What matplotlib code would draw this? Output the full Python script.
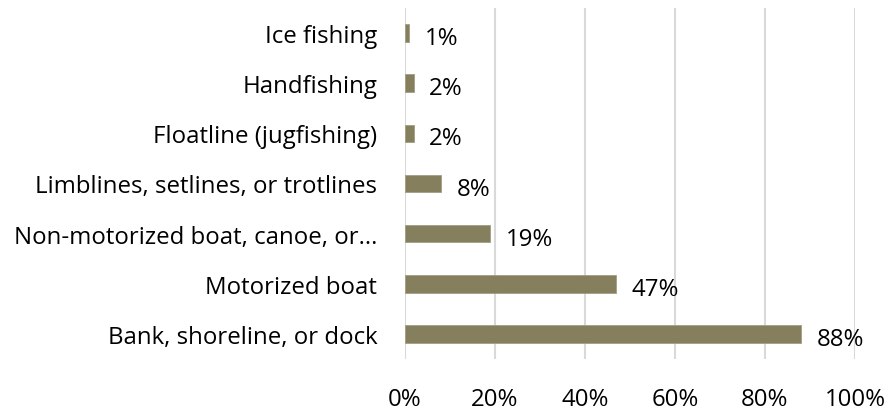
import matplotlib.pyplot as plt
from matplotlib.ticker import PercentFormatter

plt.rcParams['font.family'] = ['Open Sans', 'DejaVu Sans']

# fishing methods, bottom to top
methods = ['Bank, shoreline, or dock', 'Motorized boat', 'Non-motorized boat, canoe, or...',
           'Limblines, setlines, or trotlines', 'Floatline (jugfishing)', 'Handfishing', 'Ice fishing']
shares = [88, 47, 19, 8, 2, 2, 1]

bar_color = '#857F5E'
grid_color = '#D9D9D9'
fs = 17.3

fig = plt.figure(figsize=(8.95, 4.14), dpi=100)
ax = fig.add_axes([405 / 895, 54 / 414, 450 / 895, 351 / 414])

ypos = range(len(methods))
ax.barh(ypos, shares, height=0.35, color=bar_color, edgecolor='#A39E84', linewidth=0.6, zorder=3)

for y, v in zip(ypos, shares):
    ax.annotate(f'{v}%', xy=(v, y), xytext=(11, -3.6), textcoords='offset points',
                ha='left', va='center', fontsize=fs, color='#000000')

ax.set_xlim(0, 100)
ax.set_ylim(-0.5, len(methods) - 0.5)
ax.set_xticks(range(0, 101, 20))
ax.xaxis.set_major_formatter(PercentFormatter(decimals=0))
ax.set_yticks(list(ypos))
ax.set_yticklabels(methods)
ax.tick_params(axis='x', length=0, pad=20, labelsize=fs)
ax.tick_params(axis='y', length=0, pad=20, labelsize=fs)
ax.grid(axis='x', color=grid_color, linewidth=1.5, zorder=0)
for s in ax.spines.values():
    s.set_visible(False)

fig.savefig('out.png', dpi=100)
